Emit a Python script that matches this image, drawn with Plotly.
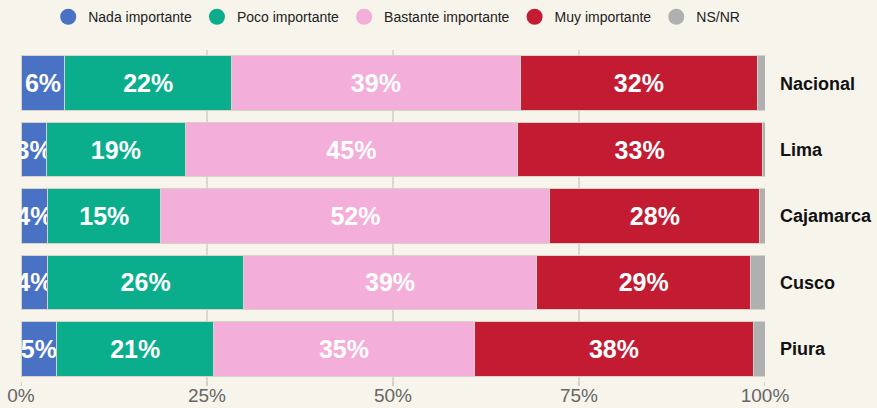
"""Importancia percibida por región: barras horizontales apiladas al 100%."""

import plotly.graph_objects as go

# Datos (porcentajes)
regiones = ["Nacional", "Lima", "Cajamarca", "Cusco", "Piura"]
nada     = [5.9, 3.4, 3.6, 3.6, 4.8]
poco     = [22.4, 18.7, 15.2, 26.3, 21.1]
bastante = [38.8, 44.6, 52.3, 39.4, 35.0]
muy      = [31.9, 32.9, 28.2, 28.8, 37.6]
nsnr     = [1.0, 0.4, 0.7, 1.9, 1.5]

ticks_x = [0, 25, 50, 75, 100]
ticks_txt = ["0%", "25%", "50%", "75%", "100%"]

_FONT = "Liberation Sans, Arial, sans-serif"
_BG = "#f7f4ec"
_GRID = "#dcd8cf"

series = [
    ("Nada importante", nada, "#4a72c4", True),
    ("Poco importante", poco, "#0aae8c", True),
    ("Bastante importante", bastante, "#f3aed9", True),
    ("Muy importante", muy, "#c31c32", True),
    ("NS/NR", nsnr, "#b0b0b0", False),
]

fig = go.Figure()
for name, values, color, labeled in series:
    fig.add_trace(
        go.Bar(
            y=regiones,
            x=values,
            orientation="h",
            name=name,
            marker=dict(color=color, line=dict(color="#d6d2c9", width=1)),
            texttemplate="%{x:.0f}%" if labeled else None,
            textposition="inside" if labeled else "none",
            insidetextanchor="middle",
            textangle=0,
            constraintext="none",
            cliponaxis=True,
            textfont=dict(family=_FONT, size=25, color="white", weight="bold"),
            showlegend=False,
        )
    )
    # leyenda con marcadores circulares
    fig.add_trace(
        go.Scatter(
            x=[None], y=[None], mode="markers", name=name,
            marker=dict(color=color, size=16, symbol="circle"),
        )
    )

# marcas de graduación cortas bajo el eje (continuación de la rejilla)
for t in ticks_x:
    fig.add_shape(
        type="line", xref="x", yref="paper",
        x0=t, x1=t, y0=0, y1=-0.012,
        line=dict(color="#c8c4bb", width=1.5),
        layer="below",
    )

fig.update_layout(
    barmode="stack",
    bargap=0.18,
    width=877,
    height=408,
    paper_bgcolor=_BG,
    plot_bgcolor=_BG,
    font=dict(family=_FONT),
    margin=dict(l=21, r=112, t=50, b=26),
    legend=dict(
        orientation="h",
        traceorder="normal",
        xref="paper", x=0.505, xanchor="center",
        yref="container", y=0.958, yanchor="middle",
        font=dict(size=14, color="#222"),
        bgcolor="rgba(0,0,0,0)",
    ),
    xaxis=dict(
        range=[0, 100],
        tickmode="array",
        tickvals=ticks_x,
        ticktext=ticks_txt,
        showgrid=True,
        gridcolor=_GRID,
        gridwidth=2,
        zeroline=False,
        ticks="",
        tickfont=dict(size=19, color="#666"),
        automargin=False,
        fixedrange=True,
    ),
    yaxis=dict(
        categoryorder="array",
        categoryarray=regiones,
        autorange="reversed",
        side="right",
        showgrid=False,
        ticks="",
        ticklabelstandoff=14,
        tickfont=dict(size=18, color="#111", weight="bold"),
        automargin=False,
        fixedrange=True,
    ),
)

# sin margen del body para que la figura ocupe toda la ventana
fig.write_html(
    "out.html",
    config={"displayModeBar": False},
    post_script="document.body.style.margin='0px';",
)
